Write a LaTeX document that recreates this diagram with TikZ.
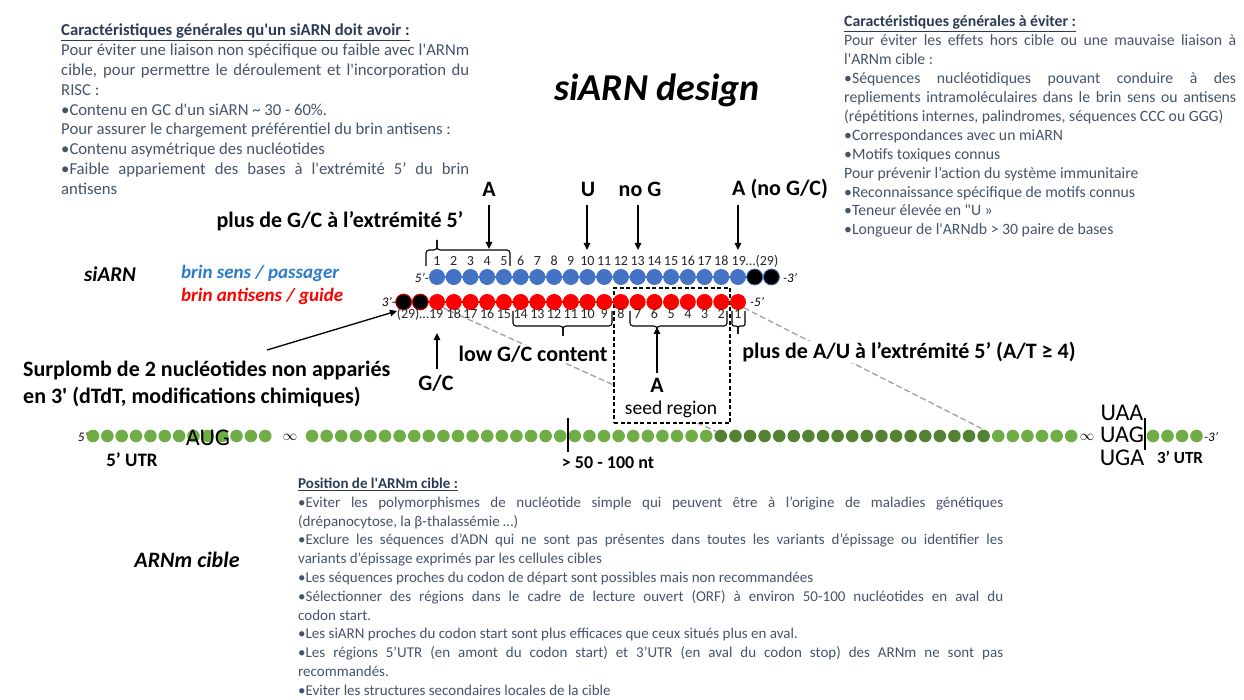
\documentclass[tikz,border=0pt]{standalone}
\usepackage{fontspec}
\setmainfont{Carlito}
\usetikzlibrary{arrows.meta,backgrounds}
\newcommand\sq{\textquotesingle}
\newcommand\fs[1]{\fontsize{#1}{#1}\selectfont}
\definecolor{bluedot}{HTML}{4472C4}
\definecolor{reddot}{HTML}{FF0000}
\definecolor{lgreen}{HTML}{70AD47}
\definecolor{dgreen}{HTML}{548235}
\definecolor{txtb}{HTML}{44546A}
\definecolor{txth}{HTML}{2B3A55}
\definecolor{sensblue}{HTML}{2B7BCB}
\definecolor{numc}{HTML}{262626}
\begin{document}
\begin{tikzpicture}[x=1pt,y=-1pt,
  bdot/.style={circle,fill=bluedot,minimum size=16pt,inner sep=0pt},
  rdot/.style={circle,fill=reddot,minimum size=16pt,inner sep=0pt},
  kbdot/.style={circle,fill=black,draw=bluedot,line width=0.8pt,minimum size=16pt,inner sep=0pt},
  krdot/.style={circle,fill=black,draw=reddot,line width=0.8pt,minimum size=16pt,inner sep=0pt},
  gdot/.style={circle,fill=lgreen,minimum size=12.6pt,inner sep=0pt},
  dgdot/.style={circle,fill=dgreen,minimum size=12.6pt,inner sep=0pt},
  lbl/.style={font=\fs{22}\bfseries,inner sep=1pt},
  num/.style={font=\fs{14},inner sep=0pt,text=numc},
  endl/.style={font=\fs{13}\itshape,inner sep=0pt},
  arr/.style={-{Triangle[length=7pt,width=6.5pt]},line width=1.3pt},
  brc/.style={line width=1.1pt,rounded corners=3pt},
  gline/.style={draw=black!35,line width=1.4pt,dash pattern=on 6pt off 3pt},
  blk/.style={anchor=base west,inner sep=0pt,text=txtb},
]
\useasboundingbox (0,0) rectangle (1244,700);

% ---------- text blocks ----------
\node[blk] (tl) at (61,35.5) {\parbox[t]{408pt}{\leavevmode\fs{16.7}\setlength\baselineskip{19.9pt}\raggedright
{\color{txth}\underline{\textbf{Caractéristiques générales qu\sq un siARN doit avoir :}}}\\
\makebox[\linewidth][s]{Pour éviter une liaison non spécifique ou faible avec l\sq ARNm}\\
\makebox[\linewidth][s]{cible, pour permettre le déroulement et l\sq incorporation du}\\
RISC :\\
•Contenu en GC d\sq un siARN \textasciitilde{} 30 - 60\%.\\
Pour assurer le chargement préférentiel du brin antisens :\\
•Contenu asymétrique des nucléotides\\
\makebox[\linewidth][s]{•Faible appariement des bases à l\sq extrémité 5’ du brin}\\
antisens}};

\node[blk] (tr) at (844,27) {\parbox[t]{392pt}{\leavevmode\fs{15.75}\setlength\baselineskip{18.9pt}\raggedright
{\color{txth}\underline{\textbf{Caractéristiques générales à éviter :}}}\\
\makebox[\linewidth][s]{Pour éviter les effets hors cible ou une mauvaise liaison à}\\
l\sq ARNm cible :\\
\makebox[\linewidth][s]{•Séquences nucléotidiques pouvant conduire à des}\\
\makebox[\linewidth][s]{repliements intramoléculaires dans le brin sens ou antisens}\\
(répétitions internes, palindromes, séquences CCC ou GGG)\\
•Correspondances avec un miARN\\
•Motifs toxiques connus\\
Pour prévenir l’action du système immunitaire\\
•Reconnaissance spécifique de motifs connus\\
•Teneur élevée en \textquotedbl U »\\
•Longueur de l\sq ARNdb > 30 paire de bases}};

\node[blk] (bt) at (298,488.5) {\parbox[t]{705pt}{\leavevmode\fs{15}\setlength\baselineskip{18.8pt}\raggedright
{\color{txth}\underline{\textbf{Position de l\sq ARNm cible :}}}\\
\makebox[\linewidth][s]{•Eviter les polymorphismes de nucléotide simple qui peuvent être à l’origine de maladies génétiques}\\
(drépanocytose, la β-thalassémie …)\\
\makebox[\linewidth][s]{•Exclure les séquences d’ADN qui ne sont pas présentes dans toutes les variants d’épissage ou identifier les}\\
variants d’épissage exprimés par les cellules cibles\\
•Les séquences proches du codon de départ sont possibles mais non recommandées\\
\makebox[\linewidth][s]{•Sélectionner des régions dans le cadre de lecture ouvert (ORF) à environ 50-100 nucléotides en aval du}\\
codon start.\\
•Les siARN proches du codon start sont plus efficaces que ceux situés plus en aval.\\
\makebox[\linewidth][s]{•Les régions 5’UTR (en amont du codon start) et 3’UTR (en aval du codon stop) des ARNm ne sont pas}\\
recommandés.\\
•Eviter les structures secondaires locales de la cible}};

% ---------- titles ----------
\node[font=\fs{38}\bfseries\itshape,inner sep=0pt] (title) at (657,90) {siARN design};
\node[font=\fs{21}\bfseries\itshape,inner sep=0pt] (siarn) at (110,274) {siARN};
\node[font=\fs{19}\bfseries\itshape,text=sensblue,anchor=west,inner sep=0pt] (sens) at (181,273) {brin sens / passager};
\node[font=\fs{19}\bfseries\itshape,text=reddot,anchor=west,inner sep=0pt] (anti) at (181,296) {brin antisens / guide};
\node[font=\fs{22}\bfseries\itshape,inner sep=0pt] (arnm) at (187,560) {ARNm cible};

% ---------- seed region box ----------
\node[draw,fill=white,line width=1.3pt,dash pattern=on 4pt off 2.5pt,minimum width=116pt,minimum height=135pt,inner sep=0pt] (seed) at (672,355.5) {};

% ---------- strands ----------
\foreach \i in {1,...,19} \node[bdot] (b\i) at ({437+(\i-1)*16.72},277) {};
\node[kbdot] (b20) at (754.7,277) {};
\node[kbdot] (b21) at (771.4,277) {};
\foreach \n in {1,...,19} \node[rdot] (r\n) at ({738-(\n-1)*16.72},302) {};
\node[krdot] (r20) at (420.3,302) {};
\node[krdot] (r21) at (403.6,302) {};

\node[endl,anchor=east] (s5) at (429,278) {5’-};
\node[endl,anchor=west] (s3) at (783,278) {-3’};
\node[endl,anchor=east] (a3) at (396,302) {3’-};
\node[endl,anchor=west] (a5) at (750,302) {-5’};

% numbers
\foreach \i in {1,...,18} \node[num] (tb\i) at ({437+(\i-1)*16.72},261) {\i};
\node[num,anchor=west] (tb19) at (731.5,261) {19…(29)};
\foreach \n in {1,...,18} \node[num] (nr\n) at ({738-(\n-1)*16.72},314) {\n};
\node[num,anchor=east] (nr19) at (443.5,314) {(29)…19};

% braces
\draw[brc] (426,266) -- (426,250) -- (437,250) -- (437,240);
\draw[brc] (437,240) -- (437,250) -- (510,250) -- (510,266);
\draw[brc] (513,311) -- (513,326) -- (563,326) -- (563,336);
\draw[brc] (563,336) -- (563,326) -- (612,326) -- (612,311);
\draw[brc] (630,311) -- (630,326) -- (657,326) -- (657,336);
\draw[brc] (657,336) -- (657,326) -- (727,326) -- (727,311);
\draw[brc,rounded corners=2pt] (732,311) -- (732,326) -- (738,326) -- (738,334);
\draw[brc,rounded corners=2pt] (738,334) -- (738,326) -- (745,326) -- (745,311);

% top labels and arrows
\node[lbl] (gc5) at (340,221) {plus de G/C à l’extrémité 5’};
\node[lbl] (lA) at (489,189) {A};
\node[lbl] (lU) at (588,189) {U};
\node[lbl] (lG) at (640,189) {no G};
\node[lbl,anchor=west,inner sep=0pt] (lAn) at (732,189) {A (no G/C)};
\coordinate (sA) at (489,205); \coordinate (tA) at (489,249);
\coordinate (sU) at (587,205); \coordinate (tU) at (587,250);
\coordinate (sG) at (638,205); \coordinate (tG) at (638,250);
\coordinate (sN) at (738,205); \coordinate (tN) at (738,250);
\draw[arr] (sA) -- (tA);
\draw[arr] (sU) -- (tU);
\draw[arr] (sG) -- (tG);
\draw[arr] (sN) -- (tN);

% bottom labels and arrows
\node[lbl,fill=white] (low) at (533,354) {low G/C content};
\node[lbl] (lgc) at (436,383) {G/C};
\node[lbl] (lsA) at (657,385) {A};
\node[font=\fs{19.5},inner sep=0pt] (seedt) at (671,409) {seed region};
\node[lbl,fill=white] (au5) at (909,352) {plus de A/U à l’extrémité 5’ (A/T ≥ 4)};
\coordinate (sGC) at (437,369); \coordinate (tGC) at (437,333);
\coordinate (sSA) at (657,373); \coordinate (tSA) at (657,327);
\draw[arr] (sGC) -- (tGC);
\draw[arr] (sSA) -- (tSA);

\node[font=\fs{22}\bfseries,anchor=west,inner sep=0pt] (sur1) at (23,370) {Surplomb de 2 nucléotides non appariés};
\node[font=\fs{22}\bfseries,anchor=west,inner sep=0pt] (sur2) at (23,397) {en 3\sq{} (dTdT, modifications chimiques)};
\coordinate (sSur) at (267,350); \coordinate (tSur) at (397,311);
\draw[arr] (sSur) -- (tSur);

% ---------- mRNA ----------
\node[endl,anchor=east] (m5) at (92,437) {5’-};
\foreach \k in {0,...,12} \node[gdot] (u\k) at ({93+\k*14.35},436) {};
\node[font=\fs{24},inner sep=0pt] (aug) at (208,438) {AUG};
\node[font=\fs{15},inner sep=0pt] (inf1) at (290,437) {$\infty$};
\foreach \k in {0,...,52} {
  \ifnum\k<28 \node[gdot] (g\k) at ({312+\k*14.6},436) {};
  \else\ifnum\k>46 \node[gdot] (g\k) at ({312+\k*14.6},436) {};
  \else \node[dgdot] (g\k) at ({312+\k*14.6},436) {};
  \fi\fi
}
\node[font=\fs{15},inner sep=0pt] (inf2) at (1087,437) {$\infty$};
\foreach \k in {0,...,3} \node[gdot] (e\k) at ({1153+\k*14.5},436) {};
\node[endl,anchor=west] (m3) at (1204,437) {-3’};
\node[font=\fs{24},inner sep=0pt] (uaa) at (1122,413) {UAA};
\node[font=\fs{24},inner sep=0pt] (uag) at (1122,435) {UAG};
\node[font=\fs{24},inner sep=0pt] (uga) at (1122,458) {UGA};
\draw[line width=2.5pt] (568,418) -- (568,452);
\draw[line width=2pt] (1145,418) -- (1145,450);
\node[font=\fs{19}\bfseries,inner sep=0pt] (utr5) at (132,460) {5’ UTR};
\node[font=\fs{17}\bfseries,inner sep=0pt] (utr3) at (1180,457) {3’ UTR};
\node[font=\fs{18}\bfseries,inner sep=0pt] (nt) at (608,463) {> 50 - 100 nt};

% ---------- background lines ----------
\begin{scope}[on background layer]
\draw[bluedot,line width=1.5pt] (b1.center) -- (b21.center);
\draw[reddot,line width=1.5pt] (r21.center) -- (r1.center);
\draw[gline] (r19.south east) -- (g28.north west);
\draw[gline] (r1.south east) -- (g46.north);
\end{scope}
\end{tikzpicture}
\end{document}
